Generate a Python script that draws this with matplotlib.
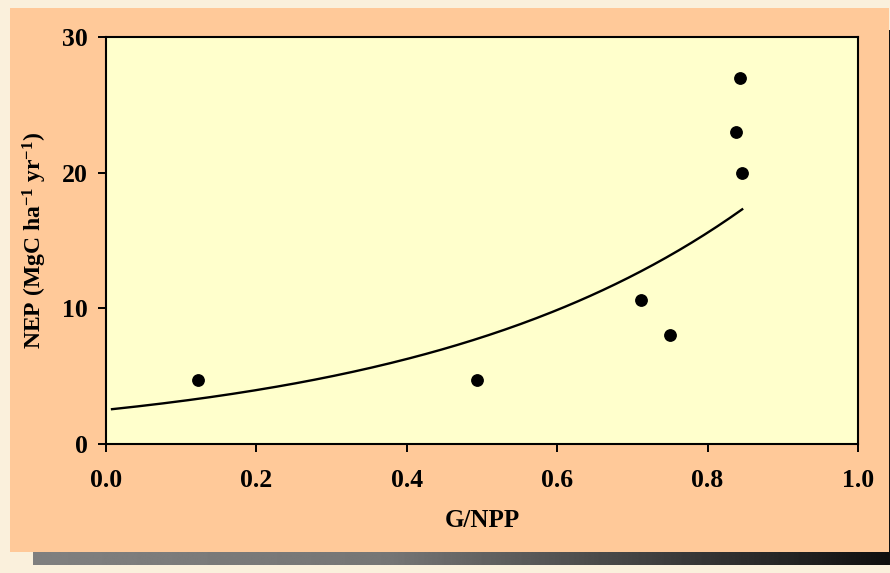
import numpy as np
import matplotlib
matplotlib.use("Agg")
import matplotlib.pyplot as plt
from matplotlib.patches import Rectangle

# Observed sites: fraction G/NPP vs net ecosystem production
g_npp = [0.122, 0.493, 0.711, 0.750, 0.838, 0.843, 0.846]
nep = [4.7, 4.7, 10.6, 8.0, 23.0, 27.0, 20.0]

# Exponential fit NEP = a * exp(b * G/NPP)
fit_a = 2.52
fit_b = 2.277
fit_range = [0.008, 0.846]

x_ticks = [0.0, 0.2, 0.4, 0.6, 0.8, 1.0]
y_ticks = [0, 10, 20, 30]

plt.rcParams["font.family"] = ["Liberation Serif", "DejaVu Serif"]
plt.rcParams["font.weight"] = "bold"
plt.rcParams["mathtext.default"] = "regular"

W, H = 890, 573
fig = plt.figure(figsize=(W / 100, H / 100), dpi=100)
fig.patch.set_facecolor("#FAF0DC")

# Decorative backdrop: orange panel with a gradient drop shadow
bg = fig.add_axes([0, 0, 1, 1])
bg.set_xlim(0, W)
bg.set_ylim(H, 0)
bg.axis("off")
grad = np.concatenate([np.linspace(0.50, 0.46, 250), np.linspace(0.46, 0.06, 350)])
bg.imshow(np.tile(grad, (2, 1)), cmap="gray", vmin=0, vmax=1, aspect="auto",
          extent=[33, 890, 565, 552], interpolation="bilinear", zorder=1)
bg.add_patch(Rectangle((888.5, 30), 3, 535, facecolor="#101010", edgecolor="none", zorder=1))
bg.add_patch(Rectangle((10, 8), 878.5, 544, facecolor="#FFC999", edgecolor="none", zorder=2))

ax = fig.add_axes([106 / W, 1 - 444 / H, (858 - 106) / W, (444 - 37) / H])
ax.set_facecolor("#FFFFCC")

xs = np.linspace(fit_range[0], fit_range[1], 200)
ax.plot(xs, fit_a * np.exp(fit_b * xs), color="black", lw=1.7, zorder=2)
ax.plot(g_npp, nep, "o", color="black", markersize=8.2, zorder=3)

ax.set_xlim(0, 1.0)
ax.set_ylim(0, 30)
ax.set_xticks(x_ticks)
ax.set_xticklabels([f"{v:.1f}" for v in x_ticks])
ax.set_yticks(y_ticks)
ax.set_yticklabels([str(v) for v in y_ticks])

for s in ax.spines.values():
    s.set_linewidth(1.5)
    s.set_color("black")

ax.tick_params(axis="both", direction="out", length=5.8, width=1.4,
               labelsize=18.5, colors="black")
ax.tick_params(axis="x", pad=12.5)
ax.tick_params(axis="y", pad=7)
for lab in ax.get_xticklabels() + ax.get_yticklabels():
    lab.set_fontweight("bold")

ax.set_xlabel("G/NPP", fontsize=18, fontweight="bold")
ax.set_ylabel("NEP (MgC ha$^{-1}$ yr$^{-1}$)", fontsize=17, fontweight="bold")
ax.xaxis.set_label_coords(0.5, -(509 - 444) / 407)
ax.yaxis.set_label_coords(-(106 - 49) / 752, 0.5)

fig.savefig("out.png", dpi=100, facecolor=fig.get_facecolor())
